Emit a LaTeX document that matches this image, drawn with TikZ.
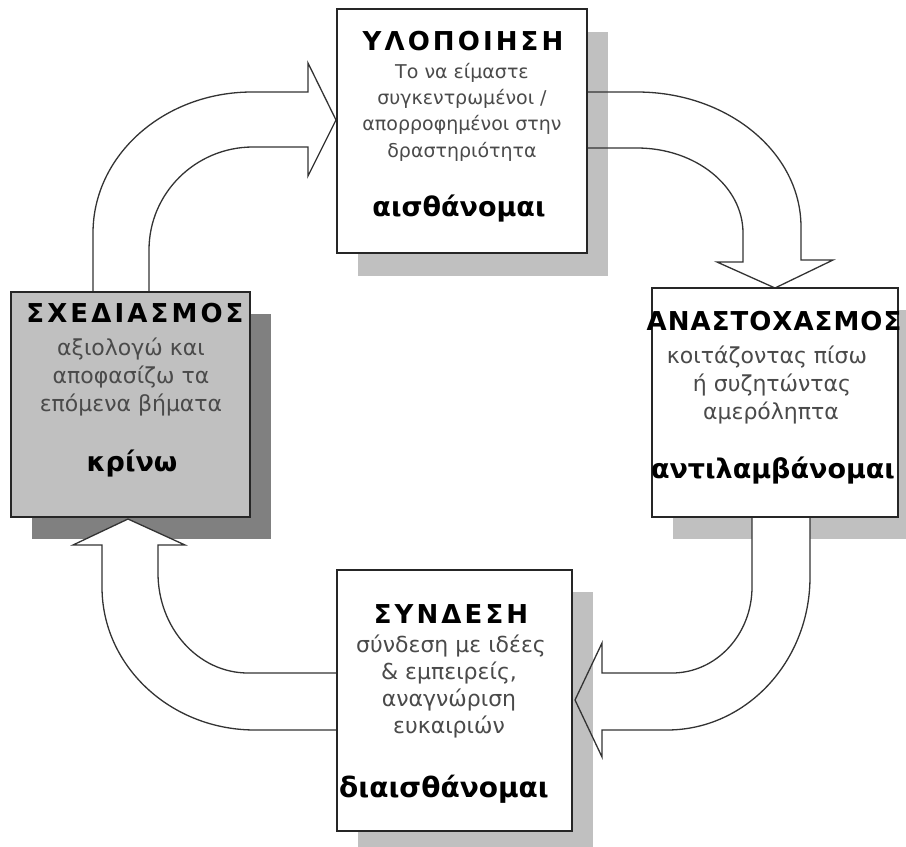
\documentclass[tikz,border=0pt]{standalone}
\usepackage{fontspec}
\setmainfont{DejaVu Sans}
\newfontfamily\ttlfont[LetterSpace=12]{DejaVu Sans}
\newfontfamily\ttlfontn[LetterSpace=4]{DejaVu Sans}
\definecolor{shadowlt}{HTML}{C0C0C0}
\definecolor{shadowdk}{HTML}{808080}
\definecolor{bodytxt}{HTML}{4A4A4A}
\begin{document}
\begin{tikzpicture}[x=1pt,y=-1pt,
  box/.style={draw=black!85, line width=1.6pt, fill=white, inner sep=0pt},
  arrowfill/.style={fill=white},
  arrowline/.style={draw=black!80, line width=1.3pt, line join=miter},
  ttl/.style={font=\ttlfont\bfseries\fontsize{26}{30}\selectfont, anchor=base, inner sep=0pt},
  ttlnarrow/.style={font=\ttlfontn\bfseries\fontsize{26}{30}\selectfont, anchor=base, inner sep=0pt},
  bodytext/.style={font=\fontsize{22}{26}\selectfont, text=bodytxt, anchor=base, inner sep=0pt},
  smalltext/.style={font=\fontsize{19}{26}\selectfont, text=bodytxt, anchor=base, inner sep=0pt},
  keyword/.style={font=\bfseries\fontsize{27}{30}\selectfont, anchor=base, inner sep=0pt}]
\useasboundingbox (0,0) rectangle (906,847);

% box corner positions for shadows
\coordinate (tnw) at (337,9);   \coordinate (tse) at (587,253);
\coordinate (lnw) at (11,292);  \coordinate (lse) at (250,517);
\coordinate (rnw) at (652,288); \coordinate (rse) at (898,517);
\coordinate (bnw) at (337,570); \coordinate (bse) at (572,831);

% shadows of right and left boxes
\fill[shadowlt] ([shift={(21,22)}]rnw) rectangle ([shift={(21,22)}]rse);
\fill[shadowdk] ([shift={(21,22)}]lnw) rectangle ([shift={(21,22)}]lse);

% arrow fills
\fill[arrowfill] (752,515) -- (752,587) .. controls (752,634.5) and (716.2,673) .. (672,673) -- (602,673) -- (602,643) -- (575,700) -- (602,757) -- (602,730) -- (667,730) .. controls (746,730) and (810,661.5) .. (810,577) -- (810,515) -- cycle;
\fill[arrowfill] (340,673) -- (248,673) .. controls (198.3,673) and (158,628.2) .. (158,573) -- (158,545) -- (185,545) -- (128,519) -- (73,545) -- (102,545) -- (102,587) .. controls (102,666) and (170.5,730) .. (255,730) -- (340,730) -- cycle;
\fill[arrowfill] (93,295) -- (93,233) .. controls (93,155) and (164.2,92) .. (252,92) -- (308,92) -- (308,63) -- (336,120) -- (308,176) -- (308,147) -- (253,147) .. controls (195.6,147) and (149,193.1) .. (149,250) -- (149,295) -- cycle;
\fill[arrowfill] (584,92) -- (637,92) .. controls (727.6,92) and (801,152.4) .. (801,227) -- (801,260) -- (833,260) -- (775,288) -- (717,262) -- (743,262) -- (743,233) .. controls (743,186.1) and (695.5,148) .. (637,148) -- (584,148) -- cycle;

% shadows of top and bottom boxes
\fill[shadowlt] ([shift={(21,23)}]tnw) rectangle ([shift={(21,23)}]tse);
\fill[shadowlt] ([shift={(21,22)}]bnw) rectangle ([shift={(21,22)}]bse);

% arrow outlines
\draw[arrowline] (752,515) -- (752,587) .. controls (752,634.5) and (716.2,673) .. (672,673) -- (602,673) -- (602,643) -- (575,700) -- (602,757) -- (602,730) -- (667,730) .. controls (746,730) and (810,661.5) .. (810,577) -- (810,515);
\draw[arrowline] (340,673) -- (248,673) .. controls (198.3,673) and (158,628.2) .. (158,573) -- (158,545) -- (185,545) -- (128,519) -- (73,545) -- (102,545) -- (102,587) .. controls (102,666) and (170.5,730) .. (255,730) -- (340,730);
\draw[arrowline] (93,295) -- (93,233) .. controls (93,155) and (164.2,92) .. (252,92) -- (308,92) -- (308,63) -- (336,120) -- (308,176) -- (308,147) -- (253,147) .. controls (195.6,147) and (149,193.1) .. (149,250) -- (149,295);
\draw[arrowline] (584,92) -- (637,92) .. controls (727.6,92) and (801,152.4) .. (801,227) -- (801,260) -- (833,260) -- (775,288) -- (717,262) -- (743,262) -- (743,233) .. controls (743,186.1) and (695.5,148) .. (637,148) -- (584,148);

% boxes
\node[box, minimum width=250pt, minimum height=244pt] (topbox) at (462,131) {};
\node[box, fill=shadowlt, minimum width=239pt, minimum height=225pt] (leftbox) at (130.5,404.5) {};
\node[box, minimum width=246pt, minimum height=229pt] (rightbox) at (775,402.5) {};
\node[box, minimum width=235pt, minimum height=261pt] (bottombox) at (454.5,700.5) {};

% top box text
\node[ttl] (t0) at (463,50) {ΥΛΟΠΟΙΗΣΗ};
\node[smalltext] (t1) at (462,78) {Το να είμαστε};
\node[smalltext] (t2) at (462,104) {συγκεντρωμένοι /};
\node[smalltext] (t3) at (462,130) {απορροφημένοι στην};
\node[smalltext] (t4) at (462,157) {δραστηριότητα};
\node[keyword] (t5) at (459,216) {αισθάνομαι};

% left box text
\node[ttl] (l0) at (135,322) {ΣΧΕΔΙΑΣΜΟΣ};
\node[bodytext] (l1) at (131,355) {αξιολογώ και};
\node[bodytext] (l2) at (131,383) {αποφασίζω τα};
\node[bodytext] (l3) at (131,411) {επόμενα βήματα};
\node[keyword] (l4) at (132,471) {κρίνω};

% right box text
\node[ttlnarrow] (r0) at (774,330) {ΑΝΑΣΤΟΧΑΣΜΟΣ};
\node[bodytext] (r1) at (767,363) {κοιτάζοντας πίσω};
\node[bodytext] (r2) at (772,391) {ή συζητώντας};
\node[bodytext] (r3) at (771,419) {αμερόληπτα};
\node[keyword] (r4) at (773,478) {αντιλαμβάνομαι};

% bottom box text
\node[ttl] (b0) at (451,623) {ΣΥΝΔΕΣΗ};
\node[bodytext] (b1) at (451,652) {σύνδεση με ιδέες};
\node[bodytext] (b2) at (449,679) {\& εμπειρείς,};
\node[bodytext] (b3) at (449,706) {αναγνώριση};
\node[bodytext] (b4) at (449,733) {ευκαιριών};
\node[keyword, font=\bfseries\fontsize{28}{30}\selectfont] (b5) at (444,797) {διαισθάνομαι};
\end{tikzpicture}
\end{document}
